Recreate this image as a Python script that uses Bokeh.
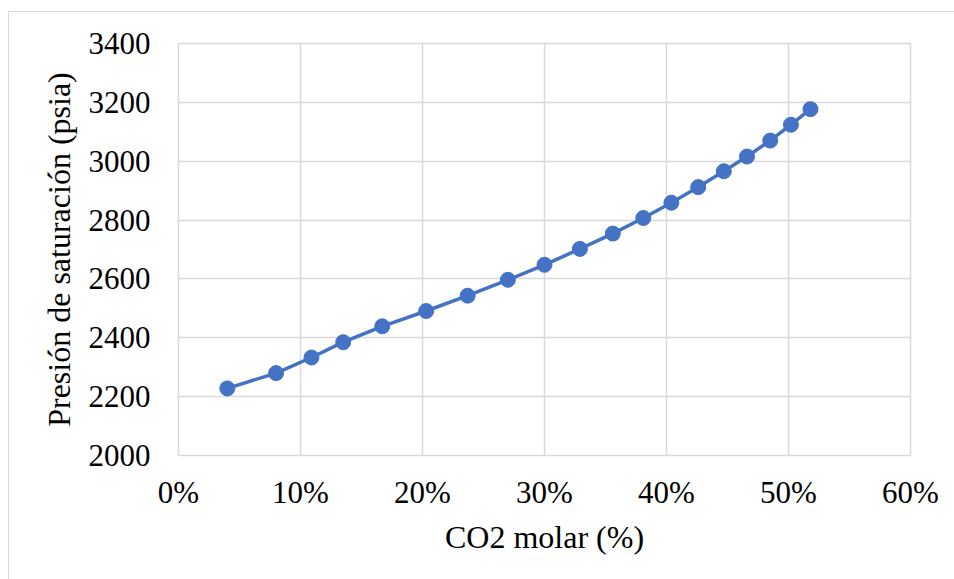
from bokeh.plotting import figure
from bokeh.models import ColumnDataSource, FixedTicker, NumeralTickFormatter, Range1d
from bokeh.embed import file_html
from bokeh.resources import INLINE

# CO2 molar fraction of the mixture and resulting saturation pressure
co2_molar = [0.040, 0.080, 0.109, 0.135, 0.167, 0.203, 0.237, 0.270, 0.300,
             0.329, 0.356, 0.381, 0.404, 0.426, 0.447, 0.466, 0.485, 0.502, 0.518]
sat_pressure = [2228, 2280, 2333, 2385, 2439, 2491, 2543, 2597, 2648,
                2702, 2754, 2807, 2859, 2912, 2966, 3016, 3070, 3124, 3177]

x_ticks = [0.0, 0.1, 0.2, 0.3, 0.4, 0.5, 0.6]
y_ticks = [2000, 2200, 2400, 2600, 2800, 3000, 3200, 3400]

FONT = "Liberation Serif"
GRID = "#d9d9d9"
BLUE = "#4472c4"

src = ColumnDataSource(data=dict(x=co2_molar, y=sat_pressure))

# chart area sits 9px in from the left and 12px down from the top,
# with a thin grey border around it
p = figure(
    width=945, height=567,
    frame_width=732, frame_height=412,
    min_border_left=169, min_border_right=44,
    min_border_top=31, min_border_bottom=124,
    x_range=Range1d(0, 0.6), y_range=Range1d(2000, 3400),
    output_backend="svg", toolbar_location=None,
    background_fill_color="white", border_fill_color="white",
    margin=(12, 0, 0, 9),
)
p.styles = {"outline": "1.5px solid #d9d9d9"}

p.line("x", "y", source=src, line_color=BLUE, line_width=3.5)
p.scatter("x", "y", source=src, size=15, fill_color=BLUE, line_color=BLUE)

p.outline_line_color = GRID
p.outline_line_width = 1.5

p.xaxis.ticker = FixedTicker(ticks=x_ticks)
p.xaxis.formatter = NumeralTickFormatter(format="0%")
p.yaxis.ticker = FixedTicker(ticks=y_ticks)

for ax in (p.xaxis[0], p.yaxis[0]):
    ax.axis_line_color = None
    ax.major_tick_line_color = None
    ax.minor_tick_line_color = None
    ax.major_label_text_font = FONT
    ax.major_label_text_font_size = "31px"
    ax.major_label_text_color = "black"
    ax.axis_label_text_font = FONT
    ax.axis_label_text_font_size = "32px"
    ax.axis_label_text_font_style = "normal"
    ax.axis_label_text_color = "black"

p.xaxis.axis_label = "CO2 molar (%)"
p.yaxis.axis_label = "Presión de saturación (psia)"
p.xaxis.major_label_standoff = 13
p.yaxis.major_label_standoff = 22
p.xaxis.axis_label_standoff = 6
p.yaxis.axis_label_standoff = 9

p.xgrid.grid_line_color = GRID
p.ygrid.grid_line_color = GRID
p.xgrid.grid_line_width = 1.5
p.ygrid.grid_line_width = 1.5

open("out.html", "w").write(file_html(p, INLINE))
